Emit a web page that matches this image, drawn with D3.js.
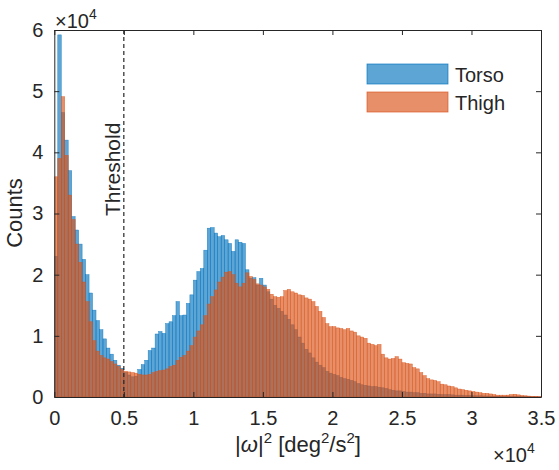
<!DOCTYPE html>
<html>
<head>
<meta charset="utf-8">
<script src="https://cdn.jsdelivr.net/npm/d3@7"></script>
<style>
  html, body { margin: 0; padding: 0; background: #fff; }
  text { font-family: "Liberation Sans", Arial, Helvetica, sans-serif; fill: #262626; }
</style>
</head>
<body>
<svg id="chart" width="559" height="470"></svg>
<script>
// ---- data (counts in units of 10^4, bins of width 250 deg^2/s^2 from 0 to 35000) ----
const binWidth = 250;
const torsoCounts = [
  2.3, 5.92, 4.65, 4.2, 3.7, 2.95, 2.73, 2.5, 2.25, 2.0,
  1.7, 1.42, 1.25, 1.1, 0.95, 0.8, 0.7, 0.6, 0.52, 0.47,
  0.4, 0.36, 0.33, 0.34, 0.45, 0.53, 0.6, 0.76, 0.8, 1.03,
  1.07, 1.04, 1.2, 1.23, 1.33, 1.56, 1.33, 1.34, 1.53, 1.67,
  1.91, 2.05, 2.1, 2.4, 2.76, 2.77, 2.68, 2.62, 2.64, 2.57,
  2.51, 2.38, 2.57, 2.53, 2.51, 2.08, 1.94, 1.95, 1.83, 1.94,
  1.83, 1.72, 1.6, 1.5, 1.45, 1.4, 1.34, 1.27, 1.18, 1.1,
  0.98, 0.88, 0.78, 0.72, 0.64, 0.57, 0.52, 0.48, 0.42, 0.39,
  0.37, 0.35, 0.32, 0.3, 0.29, 0.27, 0.25, 0.22, 0.2, 0.19,
  0.18, 0.17, 0.17, 0.16, 0.15, 0.14, 0.12, 0.11, 0.1, 0.1,
  0.09, 0.08, 0.08, 0.07, 0.07, 0.06, 0.06, 0.05, 0.05, 0.05,
  0.045, 0.04, 0.04, 0.04, 0.035, 0.03, 0.03, 0.03, 0.025, 0.025,
  0.02, 0.02, 0.02, 0.018, 0.016, 0.015, 0.013, 0.012, 0.011, 0.01,
  0.009, 0.008, 0.008, 0.007, 0.006, 0.005, 0.005, 0.004, 0.004, 0.003
];
const thighCounts = [
  3.6, 3.9, 4.91, 3.95, 3.3, 2.9, 2.5, 2.2, 1.88, 1.56,
  1.23, 0.92, 0.75, 0.68, 0.64, 0.62, 0.58, 0.54, 0.5, 0.45,
  0.42, 0.41, 0.4, 0.39, 0.37, 0.36, 0.36, 0.37, 0.4, 0.42,
  0.43, 0.44, 0.46, 0.5, 0.52, 0.6, 0.65, 0.68, 0.75, 0.84,
  0.98, 1.08, 1.18, 1.33, 1.52, 1.64, 1.75, 1.88, 1.96, 2.04,
  2.05, 2.0, 1.86, 1.8, 1.86, 2.03, 1.97, 1.92, 1.85, 1.83,
  1.8, 1.76, 1.68, 1.64, 1.63, 1.64, 1.74, 1.76, 1.72, 1.7,
  1.67, 1.66, 1.62, 1.6, 1.56, 1.48, 1.4, 1.3, 1.2, 1.15,
  1.15, 1.13, 1.12, 1.1, 1.12, 1.08, 1.06, 1.0, 0.98, 0.96,
  0.88, 0.86, 0.84, 0.86, 0.7, 0.64, 0.62, 0.63, 0.66, 0.62,
  0.56, 0.55, 0.54, 0.48, 0.46, 0.4, 0.35, 0.3, 0.28, 0.27,
  0.25, 0.21, 0.2, 0.18, 0.17, 0.15, 0.13, 0.12, 0.11, 0.1,
  0.09, 0.08, 0.07, 0.06, 0.06, 0.05, 0.04, 0.03, 0.03, 0.03,
  0.03, 0.04, 0.045, 0.035, 0.025, 0.02, 0.015, 0.01, 0.01, 0.005
];
const seriesNames = ["Torso", "Thigh"];
const xTickValues = [0, 5000, 10000, 15000, 20000, 25000, 30000, 35000];
const xTickLabels = ["0", "0.5", "1", "1.5", "2", "2.5", "3", "3.5"];
const yTickValues = [0, 1, 2, 3, 4, 5, 6];
const yTickLabels = ["0", "1", "2", "3", "4", "5", "6"];
const thresholdValue = 5000;

(function () {
// ---- layout ----
const svg = d3.select("#chart");
const pL = 54.3, pR = 541, pT = 30, pB = 397;
const axisColor = "#262626";
const blue = "rgb(0,114,189)", orange = "rgb(217,83,25)";
const blueOp = 0.64, orangeOp = 0.65;

const x = d3.scaleLinear().domain([0, 35000]).range([pL, pR]);
const y = d3.scaleLinear().domain([0, 6]).range([pB, pT]);

svg.append("defs").append("clipPath").attr("id", "plotclip")
  .append("rect").attr("x", pL).attr("y", pT).attr("width", pR - pL).attr("height", pB - pT);

const plot = svg.append("g").attr("clip-path", "url(#plotclip)");

function drawSeries(data, color, op) {
  plot.append("g").selectAll("rect").data(data).join("rect")
    .attr("x", (d, i) => x(i * binWidth))
    .attr("width", x(binWidth) - x(0))
    .attr("y", d => y(d))
    .attr("height", d => y(0) - y(d))
    .attr("fill", color)
    .attr("fill-opacity", op)
    .attr("stroke", color)
    .attr("stroke-opacity", 0.8)
    .attr("stroke-width", 0.5);
}
drawSeries(torsoCounts, blue, blueOp);
drawSeries(thighCounts, orange, orangeOp);

// threshold line
svg.append("line")
  .attr("x1", x(thresholdValue)).attr("x2", x(thresholdValue))
  .attr("y1", pT).attr("y2", pB)
  .attr("stroke", "#262626").attr("stroke-width", 1.2)
  .attr("stroke-dasharray", "4,3");
svg.append("text")
  .attr("transform", `translate(${x(thresholdValue) - 3.5},216) rotate(-90)`)
  .attr("font-size", 21).text("Threshold");

// axes
const xAxis = d3.axisBottom(x).tickValues(xTickValues)
  .tickFormat((d, i) => xTickLabels[i]).tickSizeInner(-5).tickSizeOuter(0).tickPadding(14);
const xAxisTop = d3.axisTop(x).tickValues(xTickValues)
  .tickFormat("").tickSizeInner(-5).tickSizeOuter(0);
const yAxis = d3.axisLeft(y).tickValues(yTickValues)
  .tickFormat((d, i) => yTickLabels[i]).tickSizeInner(-5).tickSizeOuter(0).tickPadding(11);
const yAxisRight = d3.axisRight(y).tickValues(yTickValues)
  .tickFormat("").tickSizeInner(-5).tickSizeOuter(0);

function style(g) {
  g.selectAll("path").attr("stroke", axisColor).attr("stroke-width", 1);
  g.selectAll("line").attr("stroke", axisColor).attr("stroke-width", 1);
  g.selectAll("text").attr("fill", axisColor).attr("font-size", 20)
    .attr("font-family", '"Liberation Sans", Arial, sans-serif');
}
svg.append("g").attr("transform", `translate(0,${pB})`).call(xAxis).call(style);
svg.append("g").attr("transform", `translate(0,${pT})`).call(xAxisTop).call(style);
svg.append("g").attr("transform", `translate(${pL},0)`).call(yAxis).call(style);
svg.append("g").attr("transform", `translate(${pR},0)`).call(yAxisRight).call(style);

// exponent labels
const expTop = svg.append("text").attr("x", 55).attr("y", 28).attr("font-size", 20);
expTop.append("tspan").text("\u00d710");
expTop.append("tspan").attr("font-size", 14).attr("dy", -9).text("4");
const expBot = svg.append("text").attr("x", 493).attr("y", 462).attr("font-size", 20);
expBot.append("tspan").text("\u00d710");
expBot.append("tspan").attr("font-size", 14).attr("dy", -9).text("4");

// axis labels
svg.append("text")
  .attr("transform", `translate(22,213) rotate(-90)`)
  .attr("text-anchor", "middle").attr("font-size", 22).text("Counts");

const xl = svg.append("text").attr("x", 298).attr("y", 452)
  .attr("text-anchor", "middle").attr("font-size", 22);
xl.append("tspan").text("|");
xl.append("tspan").attr("font-style", "italic").text("\u03c9");
xl.append("tspan").text("|");
xl.append("tspan").attr("font-size", 15).attr("dy", -9).text("2");
xl.append("tspan").attr("dy", 9).text(" [deg");
xl.append("tspan").attr("font-size", 15).attr("dy", -9).text("2");
xl.append("tspan").attr("dy", 9).text("/s");
xl.append("tspan").attr("font-size", 15).attr("dy", -9).text("2");
xl.append("tspan").attr("dy", 9).text("]");

// legend
const legendColors = [[blue, blueOp], [orange, orangeOp]];
const leg = svg.append("g");
seriesNames.forEach((name, i) => {
  const yy = 64 + i * 28;
  leg.append("rect").attr("x", 367).attr("y", yy).attr("width", 81).attr("height", 20)
    .attr("fill", legendColors[i][0]).attr("fill-opacity", legendColors[i][1])
    .attr("stroke", legendColors[i][0]).attr("stroke-opacity", 0.8).attr("stroke-width", 0.8);
  leg.append("text").attr("x", 455).attr("y", yy + 17.5).attr("font-size", 20).text(name);
});
})();
</script>
</body>
</html>
